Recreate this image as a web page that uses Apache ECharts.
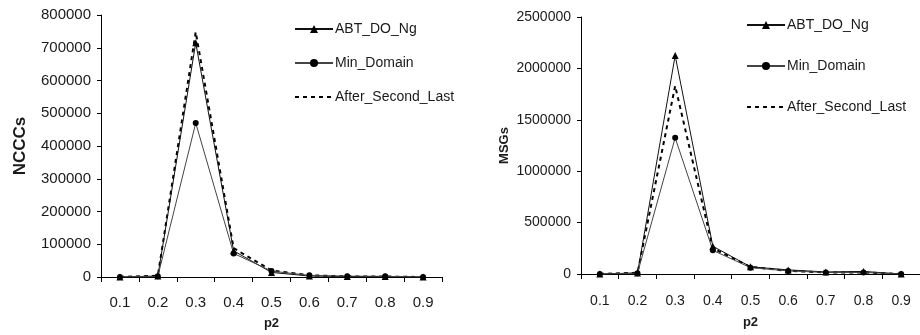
<!DOCTYPE html>
<html><head><meta charset="utf-8">
<script src="https://cdn.jsdelivr.net/npm/echarts@6/dist/echarts.min.js"></script>
<style>html,body{margin:0;padding:0;background:#fff}#c{width:920px;height:335px}</style>
</head><body><div id="c"></div>
<script>
const categories = ['0.1','0.2','0.3','0.4','0.5','0.6','0.7','0.8','0.9'];
const seriesNames = ['ABT_DO_Ng','Min_Domain','After_Second_Last'];
// NCCCs (left chart)
const ncccAbt   = [0, 3000, 715000, 80000, 14000, 3000, 1500, 1500, 0];
const ncccMin   = [0, 2000, 470000, 72000, 18000, 5000, 2500, 2000, 0];
const ncccAfter = [0, 4000, 748000, 88000, 20000, 5000, 2000, 1500, 0];
// MSGs (right chart)
const msgAbt   = [0, 10000, 2125000, 270000, 70000, 40000, 20000, 25000, 0];
const msgMin   = [0, 8000, 1325000, 230000, 62000, 30000, 15000, 15000, 0];
const msgAfter = [0, 12000, 1830000, 250000, 70000, 30000, 15000, 15000, 0];
const leftTicks = {min: 0, max: 800000, interval: 100000};
const rightTicks = {min: 0, max: 2500000, interval: 500000};

const chart = echarts.init(document.getElementById('c'));
const txt = '#1a1a1a';
function xAxis(gi, fs, margin, nameGap){
  return {type:'category', gridIndex:gi, data:categories, boundaryGap:true,
    axisLine:{lineStyle:{color:'#000',width:1}},
    axisTick:{show:true, length:5, alignWithLabel:false, lineStyle:{color:'#000'}},
    axisLabel:{color:txt, fontSize:fs, fontFamily:'Liberation Sans', margin:margin},
    name:'p2', nameLocation:'middle', nameGap:nameGap,
    nameTextStyle:{fontWeight:'bold', fontSize:13, color:txt, fontFamily:'Liberation Sans'}};
}
function yAxis(gi, t, fs, name, nfs, nameGap){
  return {type:'value', gridIndex:gi, min:t.min, max:t.max, interval:t.interval,
    splitLine:{show:false},
    axisLine:{show:true, lineStyle:{color:'#000',width:1}},
    axisTick:{show:true, length:4, lineStyle:{color:'#000'}},
    axisLabel:{color:txt, fontSize:fs, fontFamily:'Liberation Sans', margin:10,
      formatter:function(v){return String(v);}},
    name:name, nameLocation:'middle', nameGap:nameGap, nameRotate:90,
    nameTextStyle:{fontWeight:'bold', fontSize:nfs, color:txt, fontFamily:'Liberation Sans'}};
}
function series(gi, a, m, f){
  return [
    {name:seriesNames[0], type:'line', xAxisIndex:gi, yAxisIndex:gi, data:a,
     symbol:'triangle', symbolSize:7, itemStyle:{color:'#000'},
     lineStyle:{color:'#111', width:1}, z:3},
    {name:seriesNames[1], type:'line', xAxisIndex:gi, yAxisIndex:gi, data:m,
     symbol:'circle', symbolSize:6, itemStyle:{color:'#000'},
     lineStyle:{color:'#444', width:1}, z:3},
    {name:seriesNames[2], type:'line', xAxisIndex:gi, yAxisIndex:gi, data:f,
     symbol:'none', itemStyle:{color:'#000'},
     lineStyle:{color:'#000', width:2, type:[4,4]}, z:2}
  ];
}
function legend(left, top, gap, fs){
  return {orient:'vertical', left:left, top:top, itemGap:gap, itemWidth:38, itemHeight:10,
    data:[seriesNames[0], seriesNames[1], {name:seriesNames[2], itemStyle:{opacity:0}}],
    textStyle:{color:txt, fontSize:fs, fontFamily:'Liberation Sans', padding:[0,0,0,-3]},
    selectedMode:false};
}
chart.setOption({
  animation:false,
  backgroundColor:'#fff',
  grid:[
    {left:101, top:15, width:341, height:264},
    {left:581, top:17, width:346, height:257}
  ],
  legend:[legend(289, 17, 20, 14), legend(741, 13, 27, 14)],
  xAxis:[xAxis(0, 15, 18, 40), xAxis(1, 14, 20, 42)],
  yAxis:[yAxis(0, leftTicks, 15, 'NCCCs', 17, 72), yAxis(1, rightTicks, 14, 'MSGs', 13, 70)],
  series:[...series(0, ncccAbt, ncccMin, ncccAfter), ...series(1, msgAbt, msgMin, msgAfter)]
});
</script></body></html>
